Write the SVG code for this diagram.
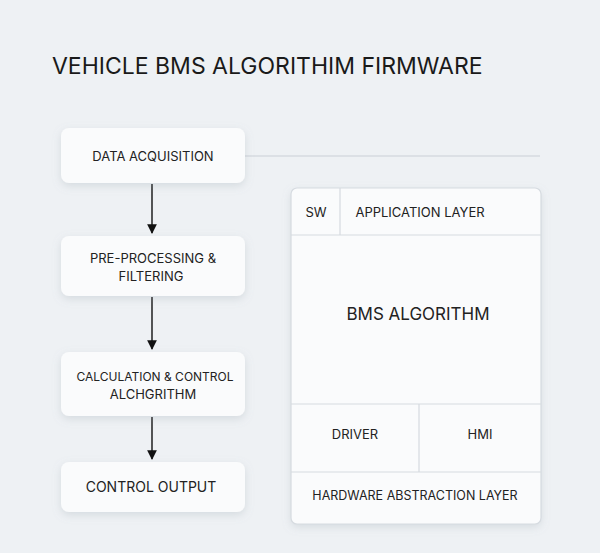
<svg xmlns="http://www.w3.org/2000/svg" width="600" height="553" viewBox="0 0 600 553">
<defs>
<filter id="sh" x="-20%" y="-30%" width="140%" height="170%"><feDropShadow dx="0" dy="3" stdDeviation="4" flood-color="#8a96a3" flood-opacity="0.25"/></filter>
<marker id="ar" viewBox="0 0 10 10" refX="9" refY="5" markerWidth="7" markerHeight="7" orient="auto"><path d="M0,0 L10,5 L0,10 z" fill="#111"/></marker>
</defs>
<style>
text{font-family:Inter,"Liberation Sans",sans-serif;fill:#222;text-anchor:middle}
.b{fill:#fafbfc;filter:url(#sh)}
.t{font-size:13px}
.g{stroke:#d6dbe0;stroke-width:1.2;fill:none}
</style>
<rect width="600" height="553" fill="#eef1f4"/>
<text x="52" y="74" style="font-size:23px;text-anchor:start;fill:#1a1a1a">VEHICLE BMS ALGORITHIM FIRMWARE</text>
<g id="connectors" stroke="#111" stroke-width="1.4">
<line x1="152" y1="184" x2="152" y2="233" marker-end="url(#ar)"/>
<line x1="152" y1="297" x2="152" y2="349" marker-end="url(#ar)"/>
<line x1="152" y1="417" x2="152" y2="459" marker-end="url(#ar)"/>
<line x1="245" y1="156" x2="540" y2="156" stroke="#c9cfd5" stroke-width="1.2"/>
</g>
<g id="n1"><rect class="b" x="61" y="128" width="184" height="55" rx="8"/><text class="t" x="153" y="161">DATA ACQUISITION</text></g>
<g id="n2"><rect class="b" x="61" y="236" width="184" height="60" rx="8"/><text class="t" x="153" y="263">PRE-PROCESSING &amp;</text><text class="t" x="151" y="281">FILTERING</text></g>
<g id="n3"><rect class="b" x="61" y="352" width="184" height="64" rx="8"/><text class="t" x="155" y="381" style="font-size:12px">CALCULATION &amp; CONTROL</text><text class="t" x="153" y="399">ALCHGRITHM</text></g>
<g id="n4"><rect class="b" x="61" y="462" width="184" height="50" rx="8"/><text class="t" x="151" y="492" style="font-size:14px">CONTROL OUTPUT</text></g>
<g id="panel">
<rect class="b" x="291" y="188" width="250" height="336" rx="6"/>
<rect x="291" y="188" width="250" height="336" rx="6" class="g"/>
<line class="g" x1="291" y1="235" x2="541" y2="235"/>
<line class="g" x1="340" y1="188" x2="340" y2="235"/>
<line class="g" x1="291" y1="404" x2="541" y2="404"/>
<line class="g" x1="419" y1="404" x2="419" y2="472"/>
<line class="g" x1="291" y1="472" x2="541" y2="472"/>
<text class="t" x="316" y="217">SW</text>
<text class="t" x="420" y="217">APPLICATION LAYER</text>
<text x="418" y="320" style="font-size:17px">BMS ALGORITHM</text>
<text class="t" x="355" y="439">DRIVER</text>
<text class="t" x="480" y="439">HMI</text>
<text class="t" x="415" y="500" style="font-size:12.5px">HARDWARE ABSTRACTION LAYER</text>
</g>
</svg>
